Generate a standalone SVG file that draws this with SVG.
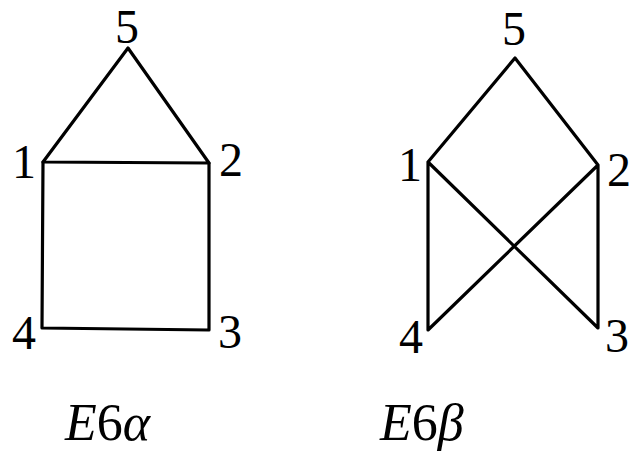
<svg xmlns="http://www.w3.org/2000/svg" width="631" height="464" viewBox="0 0 631 464">
<style>
.e{stroke:#000;stroke-width:3.2;fill:none;stroke-linecap:round;stroke-linejoin:round}
.l{font-family:"Liberation Serif","DejaVu Serif",serif;font-size:48px;fill:#000;text-anchor:middle}
.c{font-family:"Liberation Serif","DejaVu Serif",serif;font-size:52px;fill:#000}
</style>
<rect width="631" height="464" fill="#fff"/>
<g id="connectors">
<path class="e" d="M43,162 L128,48 L209,163 Z"/>
<path class="e" d="M43,162 L42,328 L209,330 L209,163"/>
<path class="e" d="M428,162 L515,58 L598,165 L598,328 L428,162 L428,330 L598,165"/>
</g>
<g id="a5"><text class="l" x="127" y="43">5</text></g>
<g id="a1"><text class="l" x="24" y="178">1</text></g>
<g id="a2"><text class="l" x="231" y="176">2</text></g>
<g id="a4"><text class="l" x="24" y="349">4</text></g>
<g id="a3"><text class="l" x="230" y="348">3</text></g>
<g id="b5"><text class="l" x="514" y="45">5</text></g>
<g id="b1"><text class="l" x="410" y="181">1</text></g>
<g id="b2"><text class="l" x="619" y="186">2</text></g>
<g id="b4"><text class="l" x="411" y="353">4</text></g>
<g id="b3"><text class="l" x="617" y="352">3</text></g>
<g id="capA"><text class="c" x="65" y="440"><tspan font-style="italic">E</tspan>6<tspan font-style="italic">α</tspan></text></g>
<g id="capB"><text class="c" x="380" y="440"><tspan font-style="italic">E</tspan>6<tspan font-style="italic">β</tspan></text></g>
</svg>
